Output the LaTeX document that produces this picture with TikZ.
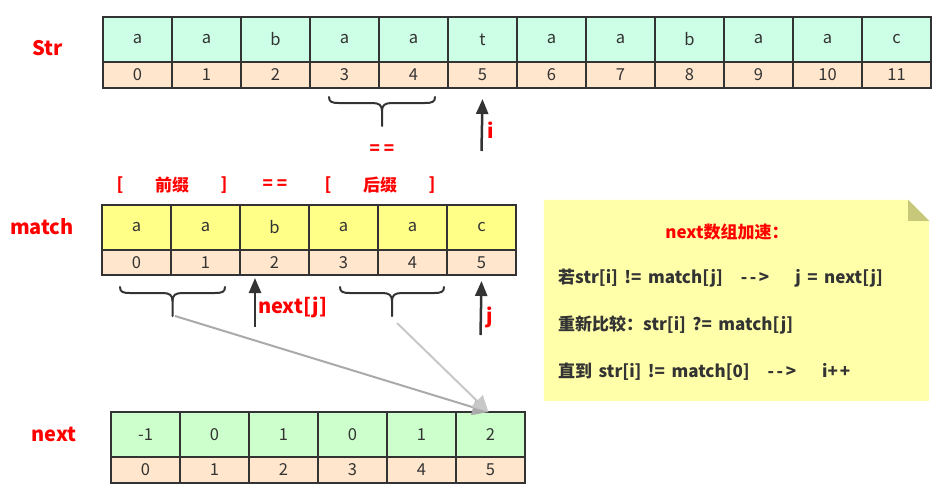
\documentclass[tikz,border=0pt]{standalone}
\usepackage{fontspec}
\setmainfont{Noto Sans CJK SC}
\usetikzlibrary{arrows.meta}
\definecolor{strfill}{HTML}{CCFFE6}
\definecolor{idxfill}{HTML}{FFE6CC}
\definecolor{matfill}{HTML}{FFFF88}
\definecolor{nxtfill}{HTML}{CCFFCC}
\definecolor{edgec}{HTML}{333333}
\definecolor{notefill}{HTML}{FFFFAA}
\definecolor{foldfill}{HTML}{C8C87A}
\definecolor{grayA}{HTML}{AAAAAA}
\definecolor{grayB}{HTML}{C8C8C8}
\newcommand\kbrace[4]{% left x, right x, top y, tip y
  \pgfmathsetmacro\kc{(#1+#2)/2}
  \draw[bracepen] (#1,#3) .. controls (#1,#3+5) and (#1+3,#3+6) .. (#1+10,#3+6)
    -- (\kc-10,#3+6) .. controls (\kc-3,#3+6) and (\kc,#3+8) .. (\kc,#3+14) -- (\kc,#4);
  \draw[bracepen] (\kc,#3+14) .. controls (\kc,#3+8) and (\kc+3,#3+6) .. (\kc+10,#3+6)
    -- (#2-10,#3+6) .. controls (#2-3,#3+6) and (#2,#3+5) .. (#2,#3);
}
\newcommand\darr{-\kern2.5pt-\kern2.5pt>}
\newcommand\wsp{\spaceskip=6.5pt\relax}
\begin{document}
\begin{tikzpicture}[x=1pt,y=-1pt,
  cellbase/.style={draw=edgec, line width=2pt, minimum width=69pt, inner sep=0pt,
    anchor=north west, text=edgec, font=\fontsize{16.5}{16.5}\selectfont},
  valcell/.style={cellbase, minimum height=45pt},
  idxcell/.style={cellbase, minimum height=26pt, fill=idxfill},
  lbl/.style={text=red, font=\bfseries\fontsize{20}{20}\selectfont, inner sep=0pt},
  redtxt/.style={text=red, font=\bfseries\fontsize{17}{17}\selectfont, inner sep=0pt},
  notetxt/.style={text=edgec, font=\bfseries\fontsize{17}{17}\selectfont, inner sep=0pt, anchor=west},
  bracepen/.style={draw=edgec, line width=2pt, line cap=round},
  blackarrow/.style={draw=edgec, line width=2.5pt, -{Triangle[length=15pt,width=12pt]}},
  grayarrow/.style={line width=2pt, -{Triangle[length=16pt,width=16pt]}}
]
\useasboundingbox (0,0) rectangle (944,493);

% ---- Str row
\foreach \c [count=\k from 0] in {a,a,b,a,a,t,a,a,b,a,a,c} {
  \node[valcell, fill=strfill] (s\k) at ({102+69*\k},16) {\c};
  \node[idxcell] (si\k) at ({102+69*\k},61) {\k};
}
\node[lbl] (lstr) at (48,48) {Str};

% ---- match row
\foreach \c [count=\k from 0] in {a,a,b,a,a,c} {
  \node[valcell, fill=matfill] (m\k) at ({101+69*\k},204) {\c};
  \node[idxcell, minimum height=25pt] (mi\k) at ({101+69*\k},249) {\k};
}
\node[lbl] (lmatch) at (42,227) {match};

% ---- next row
\foreach \c [count=\k from 0] in {-1,0,1,0,1,2} {
  \node[valcell, fill=nxtfill] (n\k) at ({110+69*\k},411) {\c};
  \node[idxcell] (ni\k) at ({110+69*\k},456) {\k};
}
\node[lbl] (lnext) at (54,434) {next};

% ---- braces
\kbrace{329}{435}{97}{126}
\kbrace{120}{225}{287}{316}
\kbrace{340}{444}{287}{316}

% ---- texts
\node[redtxt] (eq1) at (382,150) {= =};
\node[redtxt] (b1) at (120,185) {[};
\node[redtxt] (pre) at (172,185) {前缀};
\node[redtxt] (b2) at (224,185) {]};
\node[redtxt] (eq2) at (275,185) {= =};
\node[redtxt] (b3) at (328,185) {[};
\node[redtxt] (suf) at (380,185) {后缀};
\node[redtxt] (b4) at (432,185) {]};

% ---- pointer arrows
\coordinate (ibase) at (481.5,151);
\draw[blackarrow] (ibase) -- ([yshift=-10pt]si5.south);
\node[lbl, anchor=west] (li) at (487,130) {i};

\coordinate (jbase) at (480.5,335);
\draw[blackarrow] (jbase) -- ([yshift=-5pt]mi5.south);
\node[lbl, anchor=west] (lj) at (486,317) {j};

\coordinate (nbase) at (255,327);
\coordinate (ntip) at (255,278);
\draw[blackarrow] (nbase) -- (ntip);
\node[lbl, anchor=west] (lnj) at (258,307) {next[j]};

% ---- gray arrows
\coordinate (tipL) at (175,316);
\coordinate (tipR) at (397,323);
\draw[grayarrow, draw=grayA, fill=grayB] (tipL) -- ([xshift=-2pt,yshift=-1pt]n5.north);
\draw[grayarrow, draw=grayB, fill=grayB] (tipR) -- ([xshift=-2pt,yshift=-1pt]n5.north);

% ---- note
\node[minimum width=385pt, minimum height=201pt, inner sep=0pt] (note) at (736.5,300.5) {};
\fill[notefill] (note.north west) -- ([xshift=-21pt]note.north east)
  -- ([yshift=-21pt]note.north east) -- (note.south east) -- (note.south west) -- cycle;
\fill[foldfill] ([xshift=-21pt]note.north east) -- ([yshift=-21pt]note.north east)
  -- ([xshift=-21pt,yshift=-21pt]note.north east) -- cycle;
\node[redtxt] (ntitle) at (727,232) {next数组加速：};
\node[notetxt] (nl1) at (558,278) {\wsp 若str[i] != match[j]\hspace{18pt}\darr\hspace{26pt}j = next[j]};
\node[notetxt] (nl2) at (558,325) {\wsp 重新比较：str[i] ?= match[j]};
\node[notetxt] (nl3) at (558,372) {\wsp 直到 str[i] != match[0]\hspace{18pt}\darr\hspace{26pt}i+\kern2pt+};
\end{tikzpicture}
\end{document}
